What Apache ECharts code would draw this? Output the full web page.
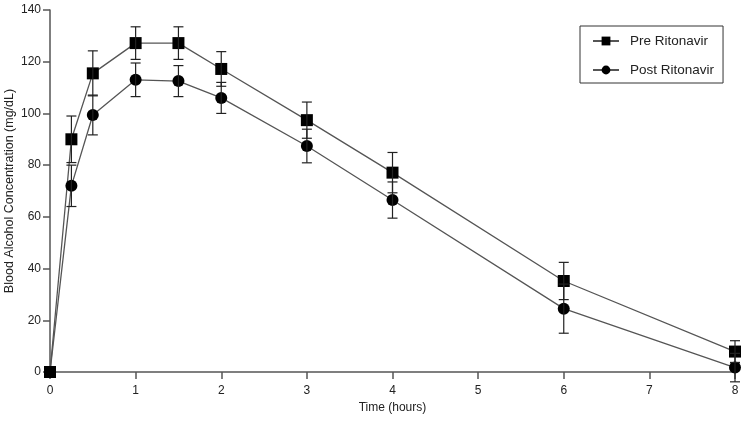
<!DOCTYPE html>
<html>
<head>
<meta charset="utf-8">
<script src="https://cdn.jsdelivr.net/npm/echarts@6/dist/echarts.min.js"></script>
<style>
  html, body { margin: 0; padding: 0; background: #fff; }
  #main { width: 750px; height: 422px; }
</style>
</head>
<body>
<div id="main"></div>
<script>
// time points (hours)
var times = [0, 0.25, 0.5, 1, 1.5, 2, 3, 4, 6, 8];
// mean blood alcohol (mg/dL) and SD
var preMean = [0, 90, 115.5, 127.2, 127.2, 117.2, 97.4, 77.1, 35.2, 7.9];
var preErr = [0, 9, 8.7, 6.3, 6.3, 6.7, 7, 7.8, 7.2, 4.2];
var postMean = [0, 72, 99.4, 113, 112.5, 106, 87.4, 66.5, 24.5, 1.7];
var postErr = [0, 8, 7.7, 6.5, 6, 6, 6.5, 7, 9.5, 5.5];
var xTicks = [0, 1, 2, 3, 4, 5, 6, 7, 8];
var yTicks = [0, 20, 40, 60, 80, 100, 120, 140];

var txt = '#222';
var axisCol = '#555';
var font = 'Liberation Sans, Arial, sans-serif';

function pairs(m) {
  return times.map(function (t, i) { return [t, m[i]]; });
}
function errData(m, e) {
  return times.map(function (t, i) { return [t, m[i] - e[i], m[i] + e[i]]; });
}

// error bars with caps
function errRender(params, api) {
  var x = api.value(0);
  var lo = api.coord([x, api.value(1)]);
  var hi = api.coord([x, api.value(2)]);
  var w = 5;
  var st = { stroke: '#222', lineWidth: 1.2 };
  if (hi[1] === lo[1]) return null;
  return {
    type: 'group',
    children: [
      { type: 'line', shape: { x1: hi[0], y1: hi[1], x2: lo[0], y2: lo[1] }, style: st },
      { type: 'line', shape: { x1: hi[0] - w, y1: hi[1], x2: hi[0] + w, y2: hi[1] }, style: st },
      { type: 'line', shape: { x1: lo[0] - w, y1: lo[1], x2: lo[0] + w, y2: lo[1] }, style: st }
    ]
  };
}

var chart = echarts.init(document.getElementById('main'));
chart.setOption({
  animation: false,
  backgroundColor: '#fff',
  textStyle: { fontFamily: font },
  grid: { left: 50, right: 15, top: 10, bottom: 50, containLabel: false, outerBoundsMode: 'none' },
  legend: {
    orient: 'vertical',
    left: 580,
    top: 26,
    padding: [8, 9, 6, 12],
    itemGap: 15,
    itemWidth: 26,
    itemHeight: 11,
    borderColor: '#333',
    borderWidth: 1,
    borderRadius: 0,
    textStyle: { color: txt, fontSize: 13.5, fontFamily: font, padding: [0, 0, 0, 6] },
    data: ['Pre Ritonavir', 'Post Ritonavir']
  },
  xAxis: {
    type: 'value',
    min: 0,
    max: 8,
    interval: 1,
    name: 'Time (hours)',
    nameLocation: 'middle',
    nameGap: 30,
    nameTextStyle: { color: txt, fontSize: 12, fontFamily: font },
    splitLine: { show: false },
    axisLine: { show: true, onZero: false, lineStyle: { color: axisCol, width: 1.5 } },
    axisTick: { show: true, length: 7, lineStyle: { color: axisCol, width: 1.5 } },
    axisLabel: {
      color: txt, fontSize: 12, margin: 13,
      formatter: function (v) { return xTicks.indexOf(v) >= 0 ? String(v) : ''; }
    }
  },
  yAxis: {
    type: 'value',
    min: 0,
    max: 140,
    interval: 20,
    name: 'Blood Alcohol Concentration (mg/dL)',
    nameLocation: 'middle',
    nameGap: 34,
    nameMoveOverlap: false,
    nameTextStyle: { color: txt, fontSize: 12.5, fontFamily: font },
    splitLine: { show: false },
    axisLine: { show: true, onZero: false, lineStyle: { color: axisCol, width: 1.5 } },
    axisTick: { show: true, length: 7, lineStyle: { color: axisCol, width: 1.5 } },
    axisLabel: {
      color: txt, fontSize: 12, margin: 9,
      formatter: function (v) { return yTicks.indexOf(v) >= 0 ? String(v) : ''; }
    }
  },
  series: [
    {
      name: 'Pre Ritonavir',
      type: 'line',
      data: pairs(preMean),
      symbol: 'rect',
      symbolSize: 12,
      itemStyle: { color: '#000' },
      lineStyle: { color: '#555', width: 1.3 },
      z: 3
    },
    {
      name: 'Post Ritonavir',
      type: 'line',
      data: pairs(postMean),
      symbol: 'circle',
      symbolSize: 12,
      itemStyle: { color: '#000' },
      lineStyle: { color: '#555', width: 1.3 },
      z: 3
    },
    {
      type: 'custom',
      renderItem: errRender,
      data: errData(preMean, preErr),
      encode: { x: 0, y: [1, 2] },
      z: 4,
      silent: true
    },
    {
      type: 'custom',
      renderItem: errRender,
      data: errData(postMean, postErr),
      encode: { x: 0, y: [1, 2] },
      z: 4,
      silent: true
    }
  ]
});
</script>
</body>
</html>
